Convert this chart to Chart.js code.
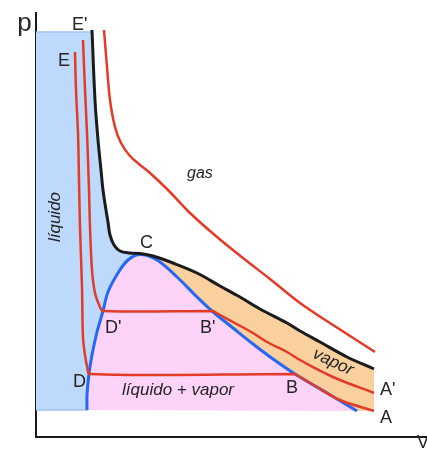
<!DOCTYPE html>
<html>
<head>
<meta charset="utf-8">
<script src="https://cdn.jsdelivr.net/npm/chart.js@4/dist/chart.umd.min.js"></script>
<style>
  html, body { margin: 0; padding: 0; background: #fff; }
  #wrap { width: 427px; height: 452px; }
</style>
</head>
<body>
<div id="wrap"><canvas id="pv"></canvas></div>
<script>
// p-V diagram values (V and p in arbitrary units)
const criticalUpper = [[5.6,40.7],[5.9,33.7],[6.2,29.7],[6.5,26.7],[6.7,24.7],[7.0,22.7],[7.2,21.5],[7.4,20.2],[7.8,19.2],[8.4,18.6],[9.4,18.4],[10.4,18.35]];
const criticalLower = [[10.4,18.35],[11.7,18.1],[13.7,17.4],[16.1,16.4],[18.4,15.1],[20.4,14.0],[22.4,12.8],[25.1,11.4],[26.4,10.6],[28.4,9.5],[31.1,8.0],[33.8,6.8]];
const domeLeft = [[5.1,2.7],[5.1,4.2],[5.3,6.3],[5.6,8.2],[6.1,10.5],[6.7,12.6],[7.2,14.5],[8.2,16.4],[9.2,17.7],[10.4,18.25]];
const domeRight = [[10.4,18.25],[12.1,17.7],[14.1,16.0],[16.1,14.0],[17.6,12.6],[19.7,10.9],[21.7,9.3],[23.7,7.8],[25.9,6.3],[29.1,4.4],[32.1,2.6]];
const isoHigh = [[6.8,40.7],[7.1,37.0],[7.4,33.7],[7.9,31.0],[8.5,29.4],[9.4,28.1],[10.4,27.2],[11.4,26.4],[13.2,24.7],[15.4,22.4],[18.1,20.0],[20.7,17.9],[23.4,15.8],[26.4,13.4],[29.7,11.2],[33.9,8.5]];
const isoMidLiquid = [[4.7,39.7],[4.9,34.7],[5.1,30.4],[5.3,24.7],[5.4,21.0],[5.6,16.7],[5.9,14.4],[6.4,13.0],[6.7,12.6]];
const isoMidVapor = [[17.7,12.6],[18.4,12.2],[19.7,11.5],[21.7,10.4],[23.1,9.5],[25.1,8.5],[26.4,7.7],[29.7,6.0],[33.8,4.4]];
const isoLowLiquid = [[3.9,38.5],[4.0,34.7],[4.2,30.4],[4.3,25.7],[4.4,21.0],[4.6,15.0],[4.7,10.0],[4.9,8.2],[5.1,7.1],[5.4,6.3]];
const isoLowVapor = [[25.9,6.3],[28.1,5.0],[30.4,3.7],[33.8,2.6]];
const liquidTop = 40.5;

const labels = [
  { text: 'p', v: -1.15, p: 40.6, size: 26, align: 'center' },
  { text: "E'", v: 3.6, p: 40.7 },
  { text: 'E', v: 2.2, p: 37.1 },
  { text: 'C', v: 10.4, p: 18.9 },
  { text: "D'", v: 6.9, p: 10.4 },
  { text: "B'", v: 16.4, p: 10.4 },
  { text: 'D', v: 3.7, p: 5.0 },
  { text: 'B', v: 25.0, p: 4.4 },
  { text: "A'", v: 34.4, p: 4.2 },
  { text: 'A', v: 34.4, p: 1.4 },
  { text: 'V', v: 38.1, p: -1.1 },
  { text: 'gas', v: 15.1, p: 25.9, size: 16, italic: true },
  { text: 'líquido + vapor', v: 8.6, p: 4.2, size: 17, italic: true },
  { text: 'vapor', v: 29.7, p: 7.5, size: 17, italic: true, rot: 25, align: 'center', base: 'middle' },
  { text: 'líquido', v: 1.95, p: 22.0, size: 17, italic: true, rot: -90, align: 'center', base: 'middle' }
];

const last = a => a[a.length - 1];
const corner = pt => [pt, pt];   // doubled point keeps the spline sharp there
const toXY = a => a.map(([x, y]) => ({ x, y }));

// closed regions built from the same curves
const liquidRegion = [
  ...corner([0, liquidTop]),
  ...corner([criticalUpper[0][0], liquidTop]),
  ...criticalUpper.slice(1, -1),
  ...corner(last(criticalUpper)),
  ...domeLeft.slice(1, -1).reverse(),
  ...corner(domeLeft[0]),
  ...corner([0, domeLeft[0][1]])
];
const mixRegion = [
  ...corner(domeLeft[0]),
  ...domeLeft.slice(1),
  ...domeRight.slice(1, -1),
  ...corner(last(domeRight))
];
const vaporRegion = [
  ...corner(criticalLower[0]),
  ...criticalLower.slice(1, -1),
  ...corner(last(criticalLower)),
  ...corner(last(isoLowVapor)),
  ...corner(last(domeRight)),
  ...domeRight.slice(1, -1).reverse()
];

const RED = '#e33b28', BLUE = '#2468f5', BLACK = '#1b1b1b';
const line = (data, color, width) => ({
  data: toXY(data), showLine: true, borderColor: color, borderWidth: width,
  tension: 0.35, pointRadius: 0, fill: false
});
const area = (data, color, border, bw) => ({
  data: toXY(data), showLine: true, backgroundColor: color, borderColor: border || 'transparent',
  borderWidth: bw || 0, tension: 0.35, pointRadius: 0, fill: 'shape'
});

const isoMid = [...isoMidLiquid, ...corner(isoMidVapor[0]), ...isoMidVapor.slice(1)];
const isoLow = [...isoLowLiquid, ...corner(isoLowVapor[0]), ...isoLowVapor.slice(1)];

const labelPlugin = {
  id: 'pvLabels',
  afterDatasetsDraw(chart) {
    const { ctx, scales: { x, y } } = chart;
    labels.forEach(l => {
      ctx.save();
      ctx.translate(x.getPixelForValue(l.v), y.getPixelForValue(l.p));
      ctx.rotate((l.rot || 0) * Math.PI / 180);
      ctx.font = (l.italic ? 'italic ' : '') + (l.size || 18) + 'px "Liberation Sans", Arial, sans-serif';
      ctx.fillStyle = '#252525';
      ctx.textAlign = l.align || 'left';
      ctx.textBaseline = l.base || 'alphabetic';
      ctx.fillText(l.text, 0, 0);
      ctx.restore();
    });
  }
};

new Chart(document.getElementById('pv'), {
  type: 'scatter',
  data: {
    datasets: [
      line(isoHigh, RED, 2.5),
      line(isoMid, RED, 2.5),
      line(isoLow, RED, 2.5),
      line([...criticalUpper, ...criticalLower.slice(1)], BLACK, 3),
      line([...domeLeft, ...domeRight.slice(1)], BLUE, 3),
      area(liquidRegion, '#bdd9fb', '#9fc4f4', 1.5),
      area(mixRegion, '#fdd4f8'),
      area(vaporRegion, '#f9d09e')
    ]
  },
  options: {
    responsive: true,
    maintainAspectRatio: false,
    animation: false,
    events: [],
    layout: { padding: { left: 36, top: 13, right: 1, bottom: 15 } },
    plugins: { legend: { display: false }, tooltip: { enabled: false } },
    scales: {
      x: {
        type: 'linear', min: 0, max: 39,
        grid: { display: false, drawTicks: false },
        ticks: { display: false },
        border: { display: true, color: '#1a1a1a', width: 2 }
      },
      y: {
        type: 'linear', min: 0, max: 42.4,
        grid: { display: false, drawTicks: false },
        ticks: { display: false },
        border: { display: true, color: '#1a1a1a', width: 2 }
      }
    }
  },
  plugins: [labelPlugin]
});
</script>
</body>
</html>
